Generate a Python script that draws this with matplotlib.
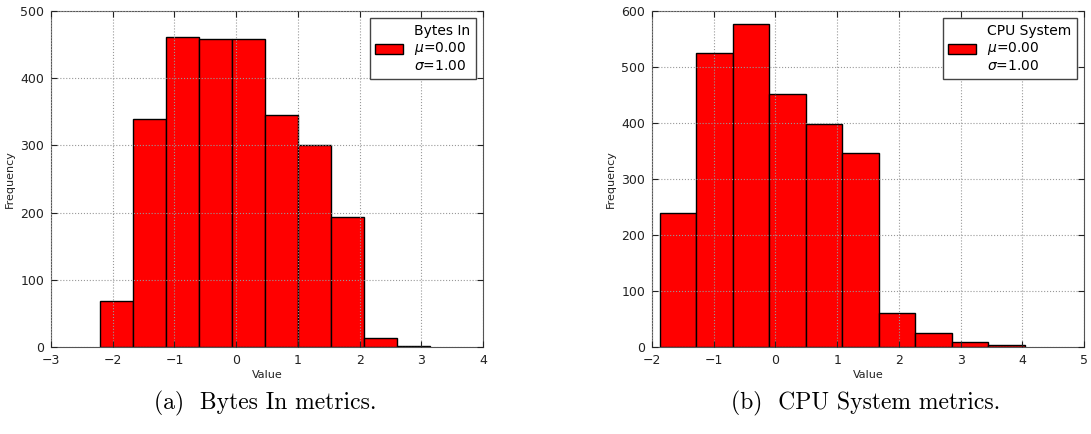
import numpy as np
import matplotlib.pyplot as plt

# Bytes In histogram (10 bins)
bytes_lo, bytes_hi = -2.20, 3.14
bytes_counts = [69, 340, 462, 459, 458, 345, 301, 193, 13, 1]

# CPU System histogram (10 bins)
cpu_lo, cpu_hi = -1.87, 4.04
cpu_counts = [240, 525, 576, 451, 399, 347, 60, 25, 9, 4]

plt.rcParams['font.family'] = 'DejaVu Sans'
plt.rcParams['xtick.direction'] = 'in'
plt.rcParams['ytick.direction'] = 'in'
plt.rcParams['xtick.top'] = True
plt.rcParams['ytick.right'] = True


def draw_hist(ax, lo, hi, counts, name, xlim, ylim):
    edges = np.linspace(lo, hi, len(counts) + 1)
    label = name + "\n$\\mu$=0.00\n$\\sigma$=1.00"
    ax.hist(edges[:-1], bins=edges, weights=counts, color='#ff0000',
            edgecolor='black', linewidth=1.0, label=label)
    ax.set_xlim(*xlim)
    ax.set_ylim(*ylim)
    ax.grid(True, linestyle=':', color='#999999', linewidth=0.8)
    ax.set_axisbelow(False)
    ax.set_xlabel('Value', fontsize=8, color='#222222', labelpad=2)
    ax.set_ylabel('Frequency', fontsize=8, color='#222222')
    ax.tick_params(labelsize=9, colors='#222222', length=4)
    ax.tick_params(axis='x', pad=5)
    ax.tick_params(axis='y', pad=5)
    for s in ax.spines.values():
        s.set_color('#555555')
    leg = ax.legend(loc='upper right', fontsize=10, fancybox=False,
                    framealpha=1, edgecolor='#444444', handlelength=2.0,
                    borderaxespad=0.5)
    leg.get_frame().set_linewidth(1.0)


fig = plt.figure(figsize=(10.91, 4.34), dpi=100)
ax1 = fig.add_axes([51 / 1091, 1 - 347 / 434, 432 / 1091, 336 / 434])
ax2 = fig.add_axes([652 / 1091, 1 - 347 / 434, 432 / 1091, 336 / 434])

draw_hist(ax1, bytes_lo, bytes_hi, bytes_counts, 'Bytes In', (-3, 4), (0, 500))
draw_hist(ax2, cpu_lo, cpu_hi, cpu_counts, 'CPU System', (-2, 5), (0, 600))

fig.text(265 / 1091, 1 - 403 / 434, '(a)  Bytes In metrics.', ha='center', va='center',
         fontsize=17, family=['cmr10', 'DejaVu Serif'])
fig.text(866 / 1091, 1 - 403 / 434, '(b)  CPU System metrics.', ha='center', va='center',
         fontsize=17, family=['cmr10', 'DejaVu Serif'])

fig.savefig('out.png', dpi=100)
